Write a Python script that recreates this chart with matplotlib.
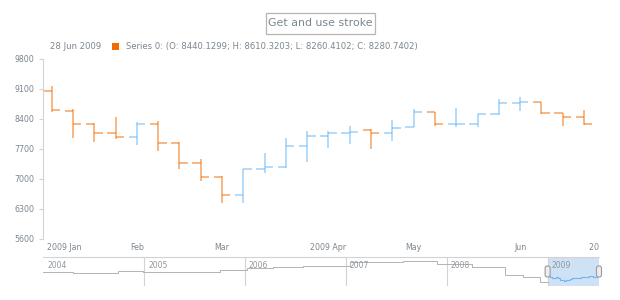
import numpy as np
import matplotlib
matplotlib.use('Agg')
import matplotlib.pyplot as plt
from matplotlib.patches import Rectangle, FancyBboxPatch
from matplotlib.transforms import Bbox, TransformedBbox, IdentityTransform, offset_copy

# ---------------- data ----------------
dates = ['2009-01-04', '2009-01-11', '2009-01-18', '2009-01-25', '2009-02-01',
         '2009-02-08', '2009-02-15', '2009-02-22', '2009-03-01', '2009-03-08',
         '2009-03-15', '2009-03-22', '2009-03-29', '2009-04-05', '2009-04-12',
         '2009-04-19', '2009-04-26', '2009-05-03', '2009-05-10', '2009-05-17',
         '2009-05-24', '2009-05-31', '2009-06-07', '2009-06-14', '2009-06-21',
         '2009-06-28']
opens = [9053, 8593, 8283, 8080, 7987, 8276, 7847, 7366, 7053, 6620,
         7226, 7273, 7770, 8000, 8080, 8143, 8066, 8206, 8570, 8276,
         8276, 8510, 8766, 8790, 8533, 8440.1299]
highs = [9170, 8633, 8300, 8440, 8337, 8360, 7856, 7466, 7060, 7226,
         7613, 7950, 8120, 8127, 8236, 8160, 8376, 8633, 8575, 8650,
         8516, 8860, 8906, 8796, 8550, 8610.3203]
lows = [8556, 7963, 7856, 7926, 7793, 7660, 7226, 6960, 6447, 6447,
        7133, 7265, 7403, 7716, 7810, 7693, 7893, 8206, 8236, 8206,
        8206, 8493, 8593, 8516, 8236, 8260.4102]
closes = [8610, 8283, 8080, 7987, 8276, 7847, 7366, 7053, 6620, 7226,
          7273, 7770, 8010, 8080, 8096, 8066, 8197, 8570, 8276, 8290,
          8510, 8766, 8790, 8533, 8440, 8280.7402]

month_label_dates = ['2009-01-04', '2009-02-01', '2009-03-01', '2009-04-05',
                     '2009-05-03', '2009-06-07', '2009-07-05']
month_labels = ['2009 Jan', 'Feb', 'Mar', '2009 Apr', 'May', 'Jun', '2009 Jul']
y_ticks = [5600, 6300, 7000, 7700, 8400, 9100, 9800]

# scroller (overview) series, 2004-2008
scroll_dates = ['2004-01-01', '2004-04-19', '2004-09-29', '2004-12-28', '2005-06-16',
                '2005-10-03', '2006-01-09', '2006-04-13', '2006-07-30', '2006-12-11',
                '2007-01-16', '2007-07-27', '2007-11-28', '2008-04-02', '2008-07-31',
                '2008-10-04', '2008-12-04', '2009-01-01']
scroll_values = [10520, 9880, 10920, 10280, 10520, 11200, 11880, 12520, 13000, 12800,
                 14280, 14800, 13600, 12520, 9200, 8280, 6520, 6520]
years = ['2004', '2005', '2006', '2007', '2008', '2009']

# ---------------- style ----------------
W, H = 620, 300
TXT = '#7c868e'
LINE = '#d3d3d3'
RISE = '#64b5f6'
FALL = '#ef6c00'

fig = plt.figure(figsize=(W / 100, H / 100), dpi=100)
fig.patch.set_facecolor('white')


def days(ds, base):
    return (np.array(ds, dtype='datetime64[D]') - np.datetime64(base)).astype(float)


x = days(dates, '2009-01-01')
o = np.array(opens); h = np.array(highs); l = np.array(lows); c = np.array(closes)
up = c >= o

# ---------------- main plot ----------------
ax = fig.add_axes([43 / W, 1 - 239 / H, (599 - 43) / W, (239 - 59) / H])
ax.set_xlim(0.14, 182.93)
ax.set_ylim(5600, 9800)
ax.set_facecolor('none')
for s in ['top', 'right', 'bottom']:
    ax.spines[s].set_visible(False)
ax.spines['left'].set_color(LINE)
ax.spines['left'].set_linewidth(0.8)
ax.set_yticks(y_ticks)
ax.set_yticklabels([str(v) for v in y_ticks])
ax.tick_params(axis='y', length=3, width=0.8, color=LINE, labelcolor=TXT,
               labelsize=5.7, pad=3)
ax.set_xticks([])

tick = 2.75
lw = 1.15
for mask, col in [(up, RISE), (~up, FALL)]:
    kw = dict(colors=col, linewidth=lw, alpha=0.6, capstyle='butt')
    ax.vlines(x[mask], l[mask], h[mask], **kw)
    ax.hlines(o[mask], x[mask] - tick, x[mask], **kw)
    ax.hlines(c[mask], x[mask], x[mask] + tick, **kw)

# x labels
clip = TransformedBbox(Bbox([[0, 0], [599 / W, 1]]), fig.transFigure)
lx = days(month_label_dates, '2009-01-01')
xt = ax.get_xaxis_transform()
ylab = -8 / 180
for i, (d, lab) in enumerate(zip(lx, month_labels)):
    if i == 0:
        t = ax.text(0, ylab, lab, transform=offset_copy(ax.transAxes, fig=fig, x=4, y=0, units='dots'),
                    ha='left', va='center', fontsize=5.7, color=TXT)
    else:
        t = ax.text(d, ylab, lab, transform=xt, ha='center', va='center',
                    fontsize=5.7, color=TXT)
    t.set_clip_box(clip)
    t.set_clip_on(True)

# ---------------- title ----------------
title = fig.text(320.5 / W, 1 - 23.5 / H, 'Get and use stroke', ha='center', va='center',
                 fontsize=7.9, color=TXT)
fig.canvas.draw()
bb = title.get_window_extent(fig.canvas.get_renderer())
px0, px1 = bb.x0 - 2.5, bb.x1 + 2.5
pyc = (bb.y0 + bb.y1) / 2
fig.add_artist(Rectangle((px0 / W, (pyc - 10.5) / H), (px1 - px0) / W, 21 / H,
                         transform=fig.transFigure, fill=False, edgecolor='#b5b5b5', linewidth=0.9))

# ---------------- legend ----------------
last = np.datetime64(dates[-1]).astype(object)
fig.text(50 / W, 1 - 46.5 / H, last.strftime('%d %b %Y'), ha='left', va='center',
         fontsize=6.1, color=TXT)
fig.add_artist(Rectangle((112 / W, 1 - 50 / H), 7 / W, 7 / H, transform=fig.transFigure,
                         facecolor=FALL, edgecolor='none'))
fig.text(126.5 / W, 1 - 46.5 / H,
         'Series 0: (O: %.4f; H: %.4f; L: %.4f; C: %.4f)' % (o[-1], h[-1], l[-1], c[-1]),
         ha='left', va='center', fontsize=6.1, color=TXT)

# ---------------- scroller ----------------
axs = fig.add_axes([43 / W, 1 - 286 / H, 556 / W, 29 / H])
axs.set_facecolor('none')
axs.set_xlim(0, 556 / 0.2762)
axs.set_ylim(4800, 16400)
for s in ['left', 'right', 'bottom']:
    axs.spines[s].set_visible(False)
axs.spines['top'].set_color(LINE)
axs.spines['top'].set_linewidth(0.8)
axs.set_xticks([]); axs.set_yticks([])

ystart = days([y + '-01-01' for y in years], '2004-01-01')
sel0 = ystart[-1]
axs.axvspan(sel0, axs.get_xlim()[1], color='#cfe1f5', zorder=0, linewidth=0)
axs.vlines(ystart[1:], 4800, 16400, colors=LINE, linewidth=0.8, zorder=1)
for d, yl in zip(ystart, years):
    axs.text(d, 0.72, yl, transform=offset_copy(axs.get_xaxis_transform(), fig=fig, x=4, y=0, units='dots'),
             ha='left', va='center', fontsize=5.5, color='#8f979d')

sx = days(scroll_dates, '2004-01-01')
axs.plot(sx, scroll_values, drawstyle='steps-post', color='#b3b3b3', linewidth=0.7, zorder=2)
x09 = days(dates, '2004-01-01')
axs.plot(np.r_[sel0, x09], np.r_[c[0], c], drawstyle='steps-post', color=RISE,
         linewidth=0.8, alpha=0.9, zorder=2)

fig.canvas.draw()
for d in [sel0, axs.get_xlim()[1]]:
    xd = axs.transData.transform((d, 10000))[0]
    yd = H - 271.5
    axs.add_artist(FancyBboxPatch((xd - 2.5, yd - 5.5), 5, 11,
                                  boxstyle='round,pad=0,rounding_size=2.2',
                                  transform=IdentityTransform(), facecolor='#eeeeee',
                                  edgecolor='#9a9a9a', linewidth=0.8, zorder=5, clip_on=False))

fig.savefig('out.png', dpi=100)
